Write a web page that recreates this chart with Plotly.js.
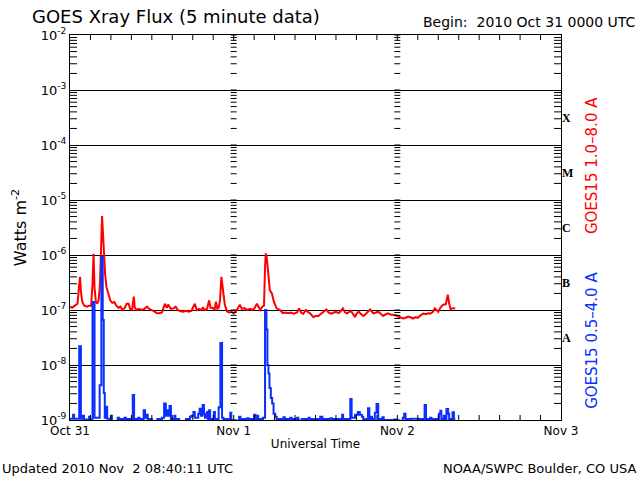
<!DOCTYPE html>
<html>
<head>
<meta charset="utf-8">
<script src="https://cdn.plot.ly/plotly-3.0.1.min.js"></script>
<style>html,body{margin:0;padding:0;background:#fff;}#chart{width:640px;height:480px;}</style>
</head>
<body>
<div id="chart"></div>
<script>
// Hours since 2010 Oct 31 00:00 UTC
const longHours = [0.0,0.3,0.7,1.1,1.3,1.47,1.6,1.8,2.1,2.5,2.8,3.1,3.3,3.45,3.6,3.8,4.0,4.2,4.4,4.55,4.7,4.85,5.0,5.15,5.35,5.6,5.9,6.2,6.5,6.8,7.1,7.4,7.7,8.0,8.3,8.6,8.8,9.1,9.35,9.5,9.8,10.1,10.5,10.9,11.3,11.6,12.0,12.3,12.7,13.1,13.5,13.9,14.2,14.4,14.8,15.2,15.5,15.8,16.2,16.6,17.0,17.4,17.8,18.3,18.6,18.9,19.2,19.5,19.8,20.1,20.4,20.6,20.9,21.2,21.4,21.6,21.8,22.0,22.2,22.35,22.5,22.7,23.0,23.3,23.7,24.0,24.5,24.9,25.2,25.6,26.0,26.4,26.8,27.1,27.4,27.7,27.9,28.2,28.45,28.6,28.7,28.85,29.0,29.1,29.3,29.6,29.9,30.3,30.8,31.2,31.6,32.0,32.4,32.8,33.3,33.6,33.9,34.2,34.6,34.9,35.2,35.7,36.0,36.4,36.8,37.1,37.6,37.9,38.3,38.7,39.0,39.4,39.7,40.0,40.3,40.6,40.9,41.2,41.5,41.8,42.0,42.3,42.6,43.0,43.3,43.6,44.0,44.3,44.5,44.9,45.2,45.6,45.9,46.2,46.6,47.0,47.4,47.8,48.1,48.5,48.9,49.3,49.6,50.0,50.3,50.7,51.0,51.4,51.8,52.2,52.5,52.8,53.2,53.5,53.8,54.0,54.3,54.7,55.1,55.4,55.6,55.8,56.1,56.5];
const longFlux = [1.15e-7,1.1e-7,1.2e-7,1.3e-7,2.5e-7,4.0e-7,2.2e-7,1.4e-7,1.2e-7,1.15e-7,1.2e-7,1.2e-7,3e-7,1.05e-6,2.5e-7,1.4e-7,1.3e-7,1.5e-7,3e-7,1.1e-6,5.1e-6,2.3e-6,9e-7,4.5e-7,2.6e-7,1.9e-7,1.5e-7,1.35e-7,1.4e-7,1.2e-7,1.1e-7,1.15e-7,1.0e-7,1.08e-7,1.3e-7,1.3e-7,1.05e-7,1.0e-7,1.75e-7,1.1e-7,1.0e-7,1.05e-7,1.0e-7,1.05e-7,1.15e-7,1.05e-7,1.0e-7,0.95e-7,0.88e-7,0.87e-7,0.9e-7,1.3e-7,1.1e-7,1.25e-7,1.05e-7,1.07e-7,1.15e-7,1.0e-7,0.95e-7,0.93e-7,0.97e-7,0.93e-7,0.96e-7,1.3e-7,1.0e-7,1.05e-7,1.0e-7,1.1e-7,1.0e-7,1.05e-7,1.5e-7,1.1e-7,1.1e-7,1.0e-7,1.42e-7,1.05e-7,1.1e-7,1.5e-7,4.0e-7,2.6e-7,1.9e-7,1.25e-7,0.95e-7,0.9e-7,0.93e-7,0.87e-7,1.0e-7,1.25e-7,1.05e-7,1.08e-7,1.0e-7,1.05e-7,1.0e-7,1.1e-7,1.3e-7,1.1e-7,1.0e-7,1.15e-7,1.2e-7,6e-7,1.07e-6,9e-7,5e-7,4e-7,2.3e-7,2.0e-7,1.42e-7,1.07e-7,1.0e-7,0.88e-7,0.9e-7,0.87e-7,0.9e-7,0.86e-7,0.9e-7,1.07e-7,0.9e-7,0.85e-7,1.0e-7,0.92e-7,0.87e-7,0.74e-7,0.78e-7,0.78e-7,0.85e-7,0.93e-7,1.02e-7,0.9e-7,0.86e-7,0.9e-7,0.93e-7,0.88e-7,0.95e-7,1.07e-7,0.92e-7,0.87e-7,0.9e-7,0.96e-7,0.85e-7,0.74e-7,0.85e-7,0.93e-7,0.86e-7,0.78e-7,0.83e-7,0.9e-7,1.02e-7,0.92e-7,0.87e-7,0.9e-7,0.93e-7,0.85e-7,0.78e-7,0.82e-7,0.87e-7,0.83e-7,0.81e-7,0.8e-7,0.76e-7,0.74e-7,0.7e-7,0.73e-7,0.76e-7,0.73e-7,0.7e-7,0.74e-7,0.72e-7,0.8e-7,0.86e-7,0.84e-7,0.87e-7,0.86e-7,0.92e-7,1.07e-7,0.98e-7,0.93e-7,1.1e-7,1.25e-7,1.27e-7,1.9e-7,1.32e-7,1.04e-7,1.08e-7,1.07e-7];

const shortHours = [0.0,0.45,0.6,1.35,1.6,1.9,2.05,2.8,2.9,3.3,3.6,4.35,4.6,4.8,4.95,5.1,5.3,5.45,6.0,6.15,7.0,7.2,8.0,8.2,9.2,9.4,10.0,10.2,10.8,11.0,11.2,11.4,12.0,12.8,13.5,13.8,14.05,14.25,14.4,14.6,14.8,15.3,15.45,16.0,17.0,17.6,17.8,18.1,18.3,18.8,19.0,19.2,19.45,19.65,19.8,20.1,20.25,20.4,20.55,21.1,21.25,21.8,22.05,22.3,22.5,23.5,23.65,24.8,25.0,26.0,26.2,27.0,27.2,27.5,27.6,28.3,28.6,28.8,28.95,29.1,29.25,29.45,29.65,29.85,30.1,30.3,31.3,31.5,32.3,32.5,33.3,33.5,34.0,35.0,35.15,36.7,37.0,38.2,38.4,39.9,40.05,41.1,41.3,41.8,42.2,42.5,42.8,43.0,43.7,43.9,44.1,44.3,44.7,44.95,45.2,45.8,46.0,47.5,48.0,48.8,49.0,49.2,50.0,51.0,52.0,52.2,52.8,53.0,54.1,54.3,54.45,54.8,55.0,55.2,55.45,55.6,56.1,56.3,56.5];
const shortFlux = [1.05e-9,1.25e-9,1.05e-9,2.2e-8,1.05e-9,1.2e-9,1.02e-9,1.15e-9,1.02e-9,1.4e-7,1.1e-9,4.3e-9,9.3e-7,6.6e-8,3.1e-9,1.1e-9,1.75e-9,1.05e-9,1.2e-9,0.95e-9,1.1e-9,1.04e-9,1.1e-9,1.04e-9,2.85e-9,1.04e-9,1.1e-9,1.04e-9,1.5e-9,1.1e-9,1.25e-9,1.04e-9,0.95e-9,1.04e-9,1.1e-9,2.0e-9,1.2e-9,1.5e-9,1.2e-9,1.8e-9,1.04e-9,1.2e-9,1.04e-9,0.95e-9,1.04e-9,1.15e-9,1.2e-9,1.4e-9,1.1e-9,1.3e-9,1.6e-9,1.2e-9,1.87e-9,1.3e-9,1.1e-9,1.4e-9,1.04e-9,1.5e-9,1.04e-9,1.4e-9,1.04e-9,1.7e-9,2.5e-8,1.1e-9,1.04e-9,1.36e-9,0.97e-9,1.15e-9,1.04e-9,1.08e-9,1.04e-9,1.25e-9,1.04e-9,1.2e-9,1.04e-9,1.1e-9,1.0e-7,4.4e-8,1.0e-8,7.0e-9,3.8e-9,2.5e-9,2.0e-9,1.3e-9,1.15e-9,1.04e-9,1.12e-9,1.04e-9,1.1e-9,1.04e-9,1.1e-9,0.98e-9,1.04e-9,1.1e-9,1.04e-9,1.15e-9,1.04e-9,1.08e-9,1.04e-9,1.25e-9,1.04e-9,2.4e-9,1.1e-9,1.25e-9,1.4e-9,1.25e-9,1.15e-9,1.04e-9,1.63e-9,1.04e-9,1.15e-9,1.04e-9,1.35e-9,1.95e-9,1.04e-9,1.12e-9,1.0e-9,1.02e-9,0.95e-9,1.1e-9,1.3e-9,1.04e-9,1.05e-9,1.04e-9,1.87e-9,1.04e-9,1.1e-9,1.04e-9,1.3e-9,1.48e-9,1.04e-9,1.2e-9,1.04e-9,1.58e-9,1.3e-9,1.04e-9,1.38e-9,1.04e-9,1.04e-9];

const dayTicks = [0, 24, 48, 72];
const dayLabels = ['Oct 31', 'Nov 1', 'Nov 2', 'Nov 3'];
const decadeVals = [1e-9, 1e-8, 1e-7, 1e-6, 1e-5, 1e-4, 1e-3, 1e-2];
const decadeLabels = ['10<sup>-9</sup>','10<sup>-8</sup>','10<sup>-7</sup>','10<sup>-6</sup>','10<sup>-5</sup>','10<sup>-4</sup>','10<sup>-3</sup>','10<sup>-2</sup>'];
const classVals = [3.16e-8, 3.16e-7, 3.16e-6, 3.16e-5, 3.16e-4];
const classLabels = ['A', 'B', 'C', 'M', 'X'];

const RED = '#ff0000', BLUE = '#0a2fff';

// ---- tick decorations drawn as shapes (positions from the axis tick grid) ----
const PLOT_W = 491, PLOT_H = 385;
const Y_MIN = -9, Y_MAX = -2;
const shapes = [];
function yFrac(v) { return (Math.log10(v) - Y_MIN) / (Y_MAX - Y_MIN); }
function hTick(xc, left, right, v) {
  const f = yFrac(v);
  shapes.push({type: 'line', xref: 'paper', yref: 'paper', x0: xc - left / PLOT_W, x1: xc + right / PLOT_W,
    y0: f, y1: f, line: {color: 'black', width: 1}, layer: 'above'});
}
for (let e = Y_MIN; e < Y_MAX; e++) {
  for (let d = 2; d <= 9; d++) {
    const v = d * Math.pow(10, e);
    hTick(0, 0, 7, v);          // left edge, inside
    hTick(1, 7, 0, v);          // right edge, inside
    hTick(1 / 3, 3, 3, v);      // day boundary Nov 1
    hTick(2 / 3, 3, 3, v);      // day boundary Nov 2
  }
}
decadeVals.forEach(function (v) { hTick(1 / 3, 3, 3, v); hTick(2 / 3, 3, 3, v); });
for (let h = 3; h < 72; h += 3) {
  const fx = h / 72;
  shapes.push({type: 'line', xref: 'paper', yref: 'paper', x0: fx, x1: fx, y0: 0, y1: 5 / PLOT_H,
    line: {color: 'black', width: 1}, layer: 'above'});
  shapes.push({type: 'line', xref: 'paper', yref: 'paper', x0: fx, x1: fx, y0: 1, y1: 1 - 5 / PLOT_H,
    line: {color: 'black', width: 1}, layer: 'above'});
}

const traces = [
  {x: longHours, y: longFlux, type: 'scatter', mode: 'lines', line: {color: RED, width: 2}, hoverinfo: 'skip'},
  {x: shortHours, y: shortFlux, type: 'scatter', mode: 'lines', line: {color: BLUE, width: 2, shape: 'hv'}, hoverinfo: 'skip'},
  // empty trace so that the flare-class label axis is drawn
  {x: [null], y: [null], yaxis: 'y2', type: 'scatter', mode: 'lines', hoverinfo: 'skip', showlegend: false}
];

const F = 'DejaVu Sans, Liberation Sans, sans-serif';
const layout = {
  width: 640, height: 480,
  margin: {l: 70, r: 79, t: 35, b: 60, autoexpand: false},
  paper_bgcolor: 'white', plot_bgcolor: 'white',
  showlegend: false,
  font: {family: F, color: 'black', size: 12},
  title: {text: 'GOES Xray Flux (5 minute data)', xref: 'container', x: 0.05, xanchor: 'left',
          yref: 'container', y: 0.966, yanchor: 'middle', font: {size: 18, family: F}},
  xaxis: {range: [0, 72], tickmode: 'array', tickvals: dayTicks, ticktext: dayLabels,
    ticks: '', showline: true, linecolor: 'black', linewidth: 1,
    mirror: true, showgrid: false, zeroline: false, tickfont: {size: 12},
    title: {text: 'Universal Time', font: {size: 12}, standoff: 2}},
  yaxis: {type: 'log', range: [Y_MIN, Y_MAX], tickmode: 'array', tickvals: decadeVals, ticktext: decadeLabels,
    ticks: '', showline: true, linecolor: 'black', linewidth: 1,
    mirror: true, showgrid: true, gridcolor: 'black', gridwidth: 1, zeroline: false,
    tickfont: {size: 13},
    title: {text: 'Watts m<sup>-2</sup>', font: {size: 16}, standoff: 10}},
  yaxis2: {type: 'log', range: [Y_MIN, Y_MAX], overlaying: 'y', anchor: 'x', side: 'right',
    tickmode: 'array', tickvals: classVals, ticktext: classLabels, ticks: '',
    showline: false, showgrid: false, zeroline: false,
    tickfont: {family: 'Liberation Serif, DejaVu Serif, serif', size: 12, weight: 'bold'}},
  shapes: shapes,
  annotations: [
    {text: 'Begin:  2010 Oct 31 0000 UTC', xref: 'paper', yref: 'paper', x: 1.157, y: 1.034,
     xanchor: 'right', yanchor: 'middle', showarrow: false, font: {size: 14}},
    {text: 'GOES15 1.0–8.0 A', xref: 'paper', yref: 'paper', x: 1.063, y: 0.662, textangle: -90,
     xanchor: 'center', yanchor: 'middle', showarrow: false, font: {size: 15, color: RED}},
    {text: 'GOES15 0.5–4.0 A', xref: 'paper', yref: 'paper', x: 1.063, y: 0.208, textangle: -90,
     xanchor: 'center', yanchor: 'middle', showarrow: false, font: {size: 15, color: BLUE}},
    {text: 'Updated 2010 Nov  2 08:40:11 UTC', xref: 'paper', yref: 'paper', x: -0.1426, y: -0.127,
     xanchor: 'left', yanchor: 'middle', showarrow: false, font: {size: 13}},
    {text: 'NOAA/SWPC Boulder, CO USA', xref: 'paper', yref: 'paper', x: 1.157, y: -0.127,
     xanchor: 'right', yanchor: 'middle', showarrow: false, font: {size: 13}}
  ]
};

Plotly.newPlot('chart', traces, layout, {displayModeBar: false, staticPlot: true});
</script>
</body>
</html>
